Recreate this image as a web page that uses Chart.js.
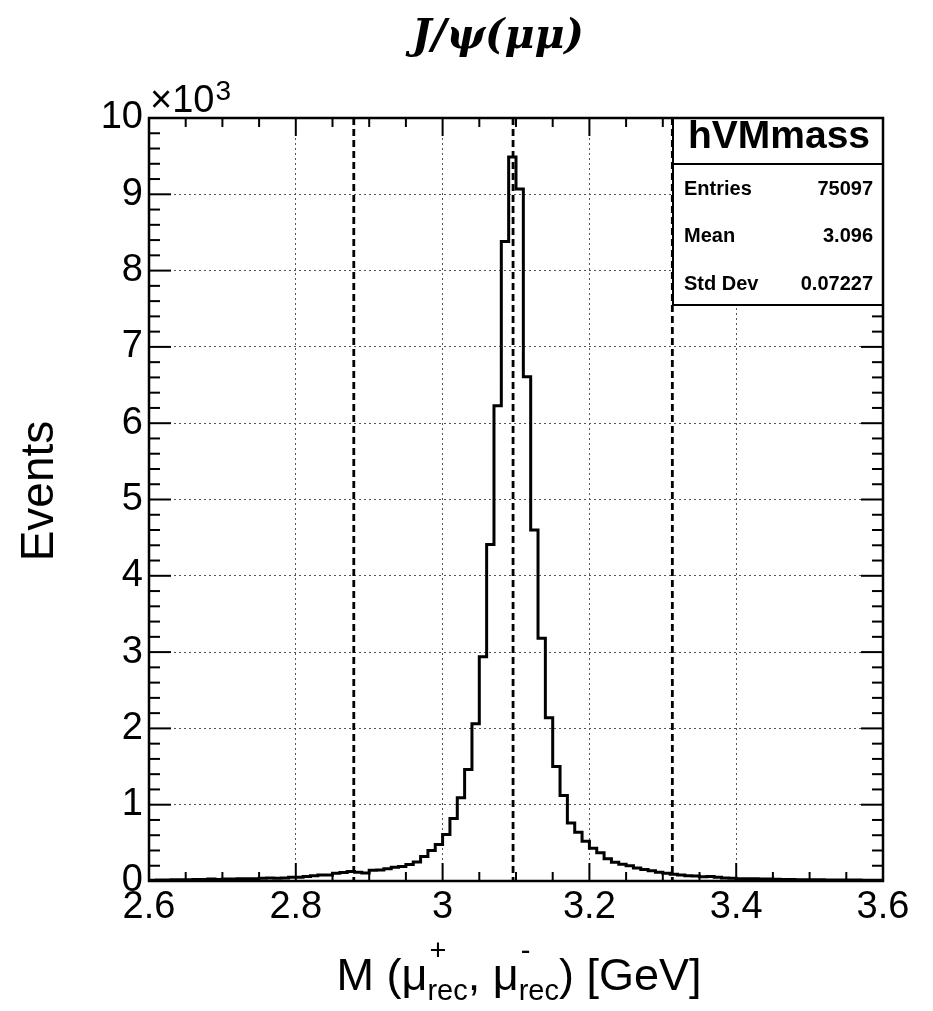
<!DOCTYPE html>
<html>
<head>
<meta charset="utf-8">
<script src="https://cdn.jsdelivr.net/npm/chart.js@4.4.1/dist/chart.umd.min.js"></script>
<style>
  html, body { margin: 0; padding: 0; background: #fff; }
  canvas { display: block; }
</style>
</head>
<body>
<canvas id="c" width="933" height="1011"></canvas>
<script>
// ---- data ----
const binEdges = [
  2.60, 2.61, 2.62, 2.63, 2.64, 2.65, 2.66, 2.67, 2.68, 2.69,
  2.70, 2.71, 2.72, 2.73, 2.74, 2.75, 2.76, 2.77, 2.78, 2.79,
  2.80, 2.81, 2.82, 2.83, 2.84, 2.85, 2.86, 2.87, 2.88, 2.89,
  2.90, 2.91, 2.92, 2.93, 2.94, 2.95, 2.96, 2.97, 2.98, 2.99,
  3.00, 3.01, 3.02, 3.03, 3.04, 3.05, 3.06, 3.07, 3.08, 3.09,
  3.10, 3.11, 3.12, 3.13, 3.14, 3.15, 3.16, 3.17, 3.18, 3.19,
  3.20, 3.21, 3.22, 3.23, 3.24, 3.25, 3.26, 3.27, 3.28, 3.29,
  3.30, 3.31, 3.32, 3.33, 3.34, 3.35, 3.36, 3.37, 3.38, 3.39,
  3.40, 3.41, 3.42, 3.43, 3.44, 3.45, 3.46, 3.47, 3.48, 3.49,
  3.50, 3.51, 3.52, 3.53, 3.54, 3.55, 3.56, 3.57, 3.58, 3.59,
  3.60
];
const counts = [
  10, 12, 12, 15, 15, 15, 20, 20, 25, 20,
  25, 25, 30, 30, 30, 35, 40, 35, 40, 50,
  50, 60, 70, 80, 80, 100, 110, 125, 115, 105,
  140, 145, 160, 180, 190, 215, 250, 320, 400, 480,
  610, 820, 1090, 1460, 2060, 2940, 4410, 6230, 8380, 9490,
  9070, 6610, 4600, 3180, 2140, 1500, 1120, 760, 640, 520,
  430, 370, 290, 245, 220, 200, 170, 150, 135, 115,
  100, 90, 80, 70, 65, 55, 60, 50, 40, 35,
  30, 30, 28, 25, 25, 22, 20, 20, 18, 18,
  15, 15, 14, 14, 12, 12, 12, 10, 10, 10
];
const xTickValues = [2.6, 2.8, 3.0, 3.2, 3.4, 3.6];
const yTickValues = [0, 1000, 2000, 3000, 4000, 5000, 6000, 7000, 8000, 9000, 10000];
const markerLines = [2.879, 3.096, 3.313];   // mean - 3σ, mean, mean + 3σ
const chartTitle = 'J/ψ(μμ)';
const yAxisTitle = 'Events';
const statTitle = 'hVMmass';
const statLabels = ['Entries', 'Mean', 'Std Dev'];
const statValues = ['75097', '3.096', '0.07227'];

// ---- build line points (histogram outline) ----
const points = counts.map((c, i) => ({ x: binEdges[i], y: c }));
points.push({ x: binEdges[binEdges.length - 1], y: counts[counts.length - 1] });

const SANS = "'Liberation Sans', Arial, Helvetica, sans-serif";

function line(ctx, x1, y1, x2, y2) {
  ctx.beginPath(); ctx.moveTo(x1, y1); ctx.lineTo(x2, y2); ctx.stroke();
}

const decor = {
  id: 'decor',
  beforeDraw(chart) {
    const ctx = chart.ctx;
    ctx.save();
    ctx.fillStyle = '#fff';
    ctx.fillRect(0, 0, chart.width, chart.height);
    ctx.restore();
  },
  afterDatasetsDraw(chart) {
    const { ctx, chartArea: a, scales: { x, y } } = chart;
    ctx.save();
    // dashed marker lines
    ctx.strokeStyle = '#000';
    ctx.lineWidth = 2.8;
    ctx.setLineDash([7, 4]);
    markerLines.forEach(v => {
      const px = x.getPixelForValue(v);
      line(ctx, px, a.top, px, a.bottom);
    });
    ctx.setLineDash([]);

    // tick marks (inside the frame, all four sides)
    ctx.lineWidth = 2;
    const xMin = x.min, xMax = x.max;
    for (let i = 0; i <= Math.round((xMax - xMin) / 0.05); i++) {
      const v = xMin + i * 0.05;
      const px = x.getPixelForValue(v);
      const major = (i % 4 === 0);
      const len = major ? 18 : 9;
      line(ctx, px, a.bottom, px, a.bottom - len);
      line(ctx, px, a.top, px, a.top + len);
    }
    for (let i = 0; i <= Math.round((y.max - y.min) / 200); i++) {
      const v = y.min + i * 200;
      const py = y.getPixelForValue(v);
      const major = (i % 5 === 0);
      const len = major ? 22 : 11;
      line(ctx, a.left, py, a.left + len, py);
      line(ctx, a.right, py, a.right - len, py);
    }

    // stat box
    const bl = a.right - 210, bt = a.top, br = a.right, bb = a.top + 187;
    ctx.fillStyle = '#fff';
    ctx.fillRect(bl, bt, br - bl, bb - bt);
    ctx.strokeStyle = '#000';
    ctx.lineWidth = 2;
    ctx.strokeRect(bl, bt, br - bl, bb - bt);
    line(ctx, bl, bt + 46, br, bt + 46);
    ctx.fillStyle = '#000';
    ctx.font = `bold 39px ${SANS}`;
    ctx.textAlign = 'center';
    ctx.textBaseline = 'alphabetic';
    ctx.fillText(statTitle, (bl + br) / 2 + 1, bt + 30);
    ctx.font = `bold 20px ${SANS}`;
    const rowY = [bt + 77, bt + 124, bt + 172];
    statLabels.forEach((s, i) => {
      ctx.textAlign = 'left';
      ctx.fillText(s, bl + 11, rowY[i]);
      ctx.textAlign = 'right';
      ctx.fillText(statValues[i], br - 10, rowY[i]);
    });

    // frame
    ctx.lineWidth = 2.5;
    ctx.strokeRect(a.left, a.top, a.right - a.left, a.bottom - a.top);
    ctx.restore();
  },
  afterDraw(chart) {
    const { ctx, chartArea: a } = chart;
    ctx.save();
    ctx.fillStyle = '#000';
    ctx.textBaseline = 'alphabetic';

    // main title
    ctx.font = `italic bold 41px 'DejaVu Serif', serif`;
    ctx.textAlign = 'center';
    ctx.fillText(chartTitle, 498, 48);

    // ×10^3 multiplier
    ctx.textAlign = 'left';
    ctx.font = `38px ${SANS}`;
    ctx.fillText('×10', a.left + 1, a.top - 6);
    const w = ctx.measureText('×10').width;
    ctx.font = `28px ${SANS}`;
    ctx.fillText('3', a.left + 1 + w + 1, a.top - 18);

    // y axis title
    ctx.save();
    ctx.translate(40, 491);
    ctx.rotate(-Math.PI / 2);
    ctx.font = `46px ${SANS}`;
    ctx.textAlign = 'center';
    ctx.textBaseline = 'middle';
    ctx.fillText(yAxisTitle, 0, 0);
    ctx.restore();

    // x axis title with super/subscripts
    const big = 45, small = 29;
    const parts = [
      { t: 'M (μ' },
      { sup: '+', sub: 'rec' },
      { t: ', μ' },
      { sup: '-', sub: 'rec' },
      { t: ') [GeV]' }
    ];
    const widths = parts.map(p => {
      if (p.t) { ctx.font = `${big}px ${SANS}`; return ctx.measureText(p.t).width; }
      ctx.font = `${small}px ${SANS}`;
      return Math.max(ctx.measureText(p.sup).width, ctx.measureText(p.sub).width);
    });
    const total = widths.reduce((s, v) => s + v, 0);
    let cx = 519 - total / 2;
    const base = 990;
    ctx.textAlign = 'left';
    parts.forEach((p, i) => {
      if (p.t) {
        ctx.font = `${big}px ${SANS}`;
        ctx.fillText(p.t, cx, base);
      } else {
        ctx.font = `${small}px ${SANS}`;
        ctx.fillText(p.sup, cx + 2, base - 30);
        ctx.fillText(p.sub, cx, base + 10);
      }
      cx += widths[i];
    });
    ctx.restore();
  }
};

new Chart(document.getElementById('c'), {
  type: 'scatter',
  data: {
    datasets: [{
      data: points,
      showLine: true,
      stepped: 'before',
      borderColor: '#000',
      borderWidth: 3,
      pointRadius: 0,
      pointHoverRadius: 0,
      fill: false
    }]
  },
  options: {
    responsive: false,
    animation: false,
    devicePixelRatio: 1,
    events: [],
    layout: { padding: { top: 118, right: 50, left: 0, bottom: 0 } },
    plugins: {
      legend: { display: false },
      tooltip: { enabled: false },
      title: { display: false }
    },
    scales: {
      x: {
        type: 'linear',
        min: 2.6,
        max: 3.6,
        afterBuildTicks: s => { s.ticks = xTickValues.map(v => ({ value: v })); },
        afterFit: s => { s.height = 130; },
        grid: { color: '#555', lineWidth: 1, drawTicks: false },
        border: { display: false, dash: [2, 3] },
        ticks: {
          color: '#000',
          font: { family: SANS, size: 38, lineHeight: 1 },
          padding: 8,
          maxRotation: 0,
          autoSkip: false,
          callback: v => String(Number(Number(v).toFixed(1)))
        }
      },
      y: {
        type: 'linear',
        min: 0,
        max: 10000,
        afterBuildTicks: s => { s.ticks = yTickValues.map(v => ({ value: v })); },
        afterFit: s => { s.width = 149; },
        grid: { color: '#555', lineWidth: 1, drawTicks: false },
        border: { display: false, dash: [2, 3] },
        ticks: {
          color: '#000',
          font: { family: SANS, size: 38, lineHeight: 1 },
          padding: 6,
          autoSkip: false,
          callback: v => String(v / 1000)
        }
      }
    }
  },
  plugins: [decor]
});
</script>
</body>
</html>
